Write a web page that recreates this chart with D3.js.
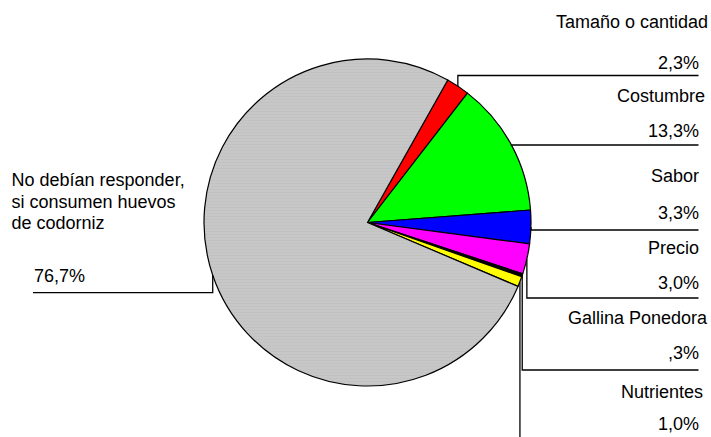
<!DOCTYPE html>
<html>
<head>
<meta charset="utf-8">
<script src="https://cdn.jsdelivr.net/npm/d3@7"></script>
<style>
  html, body { margin: 0; padding: 0; background: #fff; }
  svg { display: block; }
  text { font-family: "Liberation Sans", Arial, sans-serif; font-size: 18px; fill: #000; }
</style>
</head>
<body>
<script>
// Motivos de consumo de huevos de codorniz (%)
const categories = ["Tamaño o cantidad", "Costumbre", "Sabor", "Precio", "Gallina Ponedora", "Nutrientes",
  "No debían responder, si consumen huevos de codorniz"];
const values = [2.3, 13.3, 3.3, 3.0, 0.3, 1.0, 76.7];
const valueLabels = ["2,3%", "13,3%", "3,3%", "3,0%", ",3%", "1,0%", "76,7%"];
const colors = ["#ff0000", "#00ff00", "#0000ff", "#ff00ff", "#000000", "#ffff00", "url(#grayStripes)"];

const W = 711, H = 437;
const cx = 367.5, cy = 222.5, R = 163.5;
const startDeg = 29.4;

const svg = d3.select("body").append("svg").attr("width", W).attr("height", H);

// striped gray fill for the large slice
const pat = svg.append("defs").append("pattern")
  .attr("id", "grayStripes").attr("patternUnits", "userSpaceOnUse")
  .attr("width", 8).attr("height", 3);
pat.append("rect").attr("width", 8).attr("height", 3).attr("fill", "#c2c2c2");
pat.append("rect").attr("y", 1).attr("width", 8).attr("height", 1).attr("fill", "#cbcbcb");

const data = categories.map((c, i) => ({ cat: c, value: values[i], label: valueLabels[i], color: colors[i] }));

const start = startDeg * Math.PI / 180;
const pie = d3.pie().value(d => d.value).sort(null).startAngle(start).endAngle(start + 2 * Math.PI);
const arcs = pie(data);
const arc = d3.arc().innerRadius(0).outerRadius(R);

const g = svg.append("g").attr("transform", `translate(${cx},${cy})`);
g.selectAll("path").data(arcs).join("path")
  .attr("d", arc)
  .attr("fill", d => d.data.color)
  .attr("stroke", "#000")
  .attr("stroke-width", 1.2)
  .attr("stroke-linejoin", "round");

// label layout: name baseline, value baseline, leader line y, name right edge
const layout = [
  { nameY: [28], valY: 68.5, lineY: 75.5, nameX: 708 },
  { nameY: [102], valY: 136.5, lineY: 145, nameX: 705 },
  { nameY: [182], valY: 218.5, lineY: 230, nameX: 699 },
  { nameY: [253.5], valY: 288.5, lineY: 298, nameX: 699 },
  { nameY: [323.5], valY: 359, lineY: 370, nameX: 707 },
  { nameY: [397.5], valY: 429.5, lineY: null, nameX: 703 },
  { left: true }
];
const rightEnd = 698.5;

function anchor(a) {
  const m = (a.startAngle + a.endAngle) / 2;
  return [cx + R * Math.sin(m), cy - R * Math.cos(m)];
}

const line = d3.line();
arcs.forEach((a, i) => {
  const L = layout[i];
  const [ax, ay] = anchor(a);
  let pts;
  if (L.left) {
    pts = [[ax, ay], [ax, 292.7], [33, 292.7]];
  } else if (L.lineY === null) {
    pts = [[ax, ay], [ax, H + 5]];
  } else {
    pts = [[ax, ay], [ax, L.lineY], [rightEnd, L.lineY]];
  }
  svg.append("path").attr("d", line(pts)).attr("fill", "none")
    .attr("stroke", "#000").attr("stroke-width", 1.3);
});

// right-hand labels
arcs.forEach((a, i) => {
  const L = layout[i];
  if (L.left) return;
  svg.append("text").attr("x", L.nameX).attr("y", L.nameY[0]).attr("text-anchor", "end").text(a.data.cat);
  svg.append("text").attr("x", 699).attr("y", L.valY).attr("text-anchor", "end").text(a.data.label);
});

// left label for the large slice, wrapped over three lines
const leftLines = ["No debían responder,", "si consumen huevos", "de codorniz"];
const leftY = [186, 207.5, 229];
leftLines.forEach((t, i) => {
  svg.append("text").attr("x", 11.5).attr("y", leftY[i]).text(t);
});
svg.append("text").attr("x", 34).attr("y", 282).text(arcs[6].data.label);
</script>
</body>
</html>
